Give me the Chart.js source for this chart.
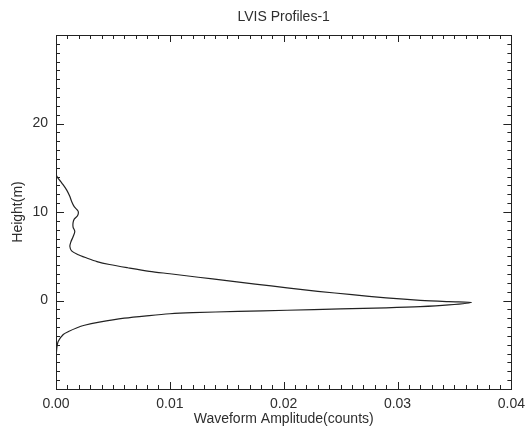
<!DOCTYPE html>
<html>
<head>
    <title>LVIS Profiles-1</title>
    <script src="https://cdn.jsdelivr.net/npm/chart.js"></script>
    <style>
        body { margin: 0; background: #fff; }
    </style>
</head>
<body>
    <div id="chart-container">
        <canvas id="chart" width="532" height="430"></canvas>
    </div>

    <script>
        // waveform profile (height in m, amplitude in counts)
        const heights = [30, 15, 14.1, 13.3, 12.5, 11.8, 11.2, 10.6, 10.1, 9.6, 9.2, 8.8, 8.3, 7.8, 7.2, 6.6, 6.1, 5.6, 5.2, 4.8, 4.4, 4.07, 3.7, 3.3, 3.02, 2.63, 2.25, 1.86, 1.43, 1.04, 0.66, 0.3, 0.02, -0.13, -0.22, -0.5, -0.7, -0.83, -0.95, -1.1, -1.23, -1.38, -1.5, -1.7, -2.0, -2.45, -2.8, -3.1, -3.5, -3.84, -4.6, -5.5, -7, -10];
        const amplitudes = [0, 0, 0.00005, 0.0005, 0.00093, 0.0012, 0.00137, 0.0016, 0.00194, 0.0019, 0.0016, 0.0015, 0.0015, 0.00165, 0.0015, 0.0013, 0.00122, 0.00137, 0.0019, 0.0027, 0.0036, 0.0047, 0.0063, 0.0082, 0.010, 0.0125, 0.015, 0.0175, 0.0203, 0.023, 0.026, 0.029, 0.032, 0.0345, 0.0365, 0.0345, 0.032, 0.029, 0.025, 0.0203, 0.016, 0.012, 0.010, 0.0082, 0.006, 0.0038, 0.0025, 0.0018, 0.0011, 0.00064, 0.0002, 0.00006, 0, 0];

        const xTicks = [0, 0.01, 0.02, 0.03, 0.04];
        const yTicks = [0, 10, 20];

        const ink = '#222';
        const textInk = '#2e2e2e';

        // IDL style box: frame plus inward ticks on all four sides
        const boxTicks = {
            id: 'boxTicks',
            afterDatasetsDraw(chart) {
                const { ctx, chartArea: a, scales: { x, y } } = chart;
                ctx.save();
                ctx.strokeStyle = ink;
                ctx.lineWidth = 1;
                ctx.strokeRect(Math.round(a.left) + 0.5, Math.round(a.top) + 0.5,
                    Math.round(a.right - a.left), Math.round(a.bottom - a.top));
                ctx.beginPath();
                for (let i = 0; i <= 40; i++) {
                    const px = Math.round(x.getPixelForValue(i / 1000)) + 0.5;
                    const len = i % 10 === 0 ? 7 : 4;
                    ctx.moveTo(px, a.bottom); ctx.lineTo(px, a.bottom - len);
                    ctx.moveTo(px, a.top); ctx.lineTo(px, a.top + len);
                }
                for (let h = -10; h <= 30; h++) {
                    const py = Math.round(y.getPixelForValue(h)) + 0.5;
                    const len = h % 10 === 0 ? 8 : 4;
                    ctx.moveTo(a.left, py); ctx.lineTo(a.left + len, py);
                    ctx.moveTo(a.right, py); ctx.lineTo(a.right - len, py);
                }
                ctx.stroke();
                ctx.restore();
            }
        };

        Chart.defaults.font.family = "'Liberation Sans', Arial, Helvetica, sans-serif";
        Chart.defaults.font.size = 14;
        Chart.defaults.color = textInk;

        const ctx = document.getElementById('chart').getContext('2d');
        const chart = new Chart(ctx, {
            type: 'scatter',
            data: {
                datasets: [{
                    label: 'LVIS Profiles-1',
                    data: heights.map((h, i) => ({ x: amplitudes[i], y: h })),
                    showLine: true,
                    borderColor: ink,
                    borderWidth: 1.2,
                    pointRadius: 0,
                    tension: 0.3,
                }]
            },
            options: {
                responsive: false,
                animation: false,
                layout: { padding: { left: 0, right: 16, top: 0, bottom: 0 } },
                plugins: {
                    legend: { display: false },
                    tooltip: { enabled: false },
                },
                scales: {
                    x: {
                        type: 'linear',
                        position: 'bottom',
                        min: 0,
                        max: 0.04,
                        grid: { display: false, drawTicks: false },
                        border: { display: false },
                        afterBuildTicks: s => { s.ticks = xTicks.map(v => ({ value: v })); },
                        ticks: { padding: 7, maxRotation: 0, callback: v => v.toFixed(2) },
                        title: { display: true, text: 'Waveform Amplitude(counts)', padding: { top: 0, bottom: 2.5 } },
                        afterFit: s => { s.height = 41; },
                    },
                    // top axis only carries the plot title, centred over the plot box
                    x2: {
                        type: 'linear',
                        position: 'top',
                        min: 0,
                        max: 0.04,
                        grid: { display: false, drawTicks: false },
                        border: { display: false },
                        ticks: { display: false },
                        title: { display: true, text: 'LVIS Profiles-1', padding: { top: 9, bottom: 0 } },
                        afterFit: s => { s.height = 35; },
                    },
                    y: {
                        type: 'linear',
                        position: 'left',
                        min: -10,
                        max: 30,
                        grid: { display: false, drawTicks: false },
                        border: { display: false },
                        afterBuildTicks: s => { s.ticks = yTicks.map(v => ({ value: v })); },
                        ticks: { padding: 8 },
                        title: { display: true, text: 'Height(m)', padding: { top: 9.5, bottom: 0 } },
                        afterFit: s => { s.width = 56; },
                    },
                },
            },
            plugins: [boxTicks],
        });
    </script>
</body>
</html>
